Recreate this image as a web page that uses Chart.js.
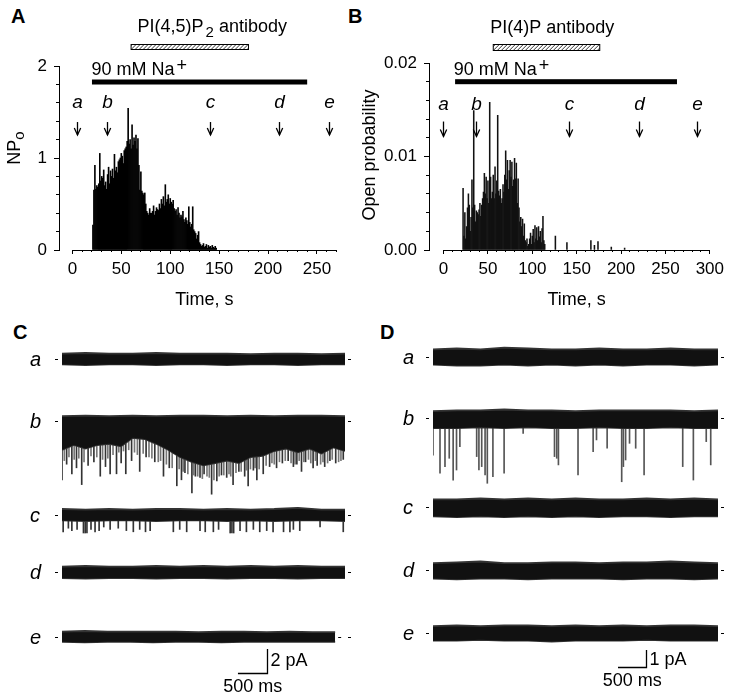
<!DOCTYPE html>
<html>
<head>
<meta charset="utf-8">
<script src="https://cdn.jsdelivr.net/npm/chart.js@4.4.1/dist/chart.umd.min.js"></script>
<style>
  html, body { margin: 0; padding: 0; background: #fff; }
  body { position: relative; width: 729px; height: 694px; overflow: hidden; font-family: "Liberation Sans", Arial, sans-serif; }
  canvas { position: absolute; }
  .tag { position: absolute; font-weight: bold; font-size: 20px; line-height: 20px; color: #000; }
</style>
</head>
<body>
<div class="tag" style="left:11px;top:6px">A</div>
<div class="tag" style="left:348px;top:6px">B</div>
<div class="tag" style="left:13px;top:322px">C</div>
<div class="tag" style="left:380px;top:322px">D</div>
<canvas id="chartA" width="360" height="320" style="left:0;top:0"></canvas>
<canvas id="chartB" width="369" height="320" style="left:360px;top:0"></canvas>
<canvas id="chartC" width="360" height="374" style="left:0;top:320px"></canvas>
<canvas id="chartD" width="369" height="374" style="left:360px;top:320px"></canvas>
<script>
// ---------- data: panel A (NPo, 1-s bins) ----------
const aStart = 21
const aNPo = [
  0.27, 0.65, 0.92, 0.66, 0.70, 0.68, 0.72, 1.05, 0.75, 0.80,
  0.78, 0.87, 0.70, 0.74, 0.66, 0.82, 0.90, 0.72, 0.86, 0.80,
  0.88, 0.78, 1.04, 0.86, 0.90, 0.84, 0.96, 0.98, 1.00, 1.05,
  1.02, 0.94, 1.08, 1.10, 1.12, 1.18, 1.54, 1.15, 1.20, 1.10,
  1.36, 1.14, 1.22, 1.18, 1.25, 1.10, 1.21, 0.92, 0.65, 0.85,
  0.64, 0.62, 0.60, 0.62, 0.50, 0.42, 0.40, 0.38, 0.45, 0.40,
  0.40, 0.42, 0.48, 0.38, 0.42, 0.46, 0.44, 0.43, 0.50, 0.45,
  0.55, 0.50, 0.58, 0.48, 0.71, 0.52, 0.55, 0.60, 0.50, 0.56,
  0.52, 0.50, 0.54, 0.45, 0.42, 0.44, 0.38, 0.46, 0.40, 0.35,
  0.38, 0.36, 0.42, 0.33, 0.30, 0.35, 0.32, 0.28, 0.47, 0.30,
  0.25, 0.28, 0.47, 0.22, 0.20, 0.18, 0.12, 0.16, 0.20, 0.08,
  0.06, 0.04, 0.05, 0.07, 0.03, 0.04, 0.06, 0.02, 0.05, 0.03,
  0.04, 0.02, 0.05, 0.03, 0.02, 0.04, 0.02
]
const aTicksX = [0, 50, 100, 150, 200, 250]
const aTicksY = [0, 1, 2]
const aArrowTimes = [5, 35, 141, 211, 262]
const aNaPeriod = [20, 240]
const aAbPeriod = [60, 180]

// ---------- data: panel B (open probability, 1-s bins) ----------
const bStart = 22
const bOpenProb = [
  0.0066, 0.0015, 0.0040, 0.0012, 0.0025, 0.0045, 0.0060, 0.0048, 0.0020, 0.0035,
  0.0075, 0.0045, 0.0149, 0.0048, 0.0030, 0.0042, 0.0040, 0.0038, 0.0043, 0.0050,
  0.0036, 0.0048, 0.0055, 0.0062, 0.0082, 0.0060, 0.0078, 0.0055, 0.0074, 0.0050,
  0.0158, 0.0078, 0.0055, 0.0062, 0.0080, 0.0055, 0.0089, 0.0060, 0.0074, 0.0144,
  0.0063, 0.0058, 0.0065, 0.0050, 0.0055, 0.0070, 0.0062, 0.0080, 0.0106, 0.0075,
  0.0096, 0.0065, 0.0085, 0.0096, 0.0078, 0.0094, 0.0068, 0.0075, 0.0098, 0.0076,
  0.0093, 0.0050, 0.0076, 0.0045, 0.0030, 0.0035, 0.0025, 0.0033, 0.0015, 0.0028,
  0.0010, 0.0008, 0.0012, 0.0004, 0.0006, 0.0012, 0.0018, 0.0006, 0.0015, 0.0022,
  0.0008, 0.0026, 0.0012, 0.0024, 0.0010, 0.0025, 0.0014, 0.0020, 0.0008, 0.0023,
  0.0036, 0.0010, 0.0006
]
const bLateTimes = [126, 139, 166, 170, 174, 189, 204]
const bLateProb = [0.0015, 0.0008, 0.0010, 0.0005, 0.0009, 0.0003, 0.0002]
const bTicksX = [0, 50, 100, 150, 200, 250, 300]
const bTicksY = [0, 0.01, 0.02]
const bArrowTimes = [-1, 36, 141, 220, 286]
const bNaPeriod = [13, 263]
const bAbPeriod = [56, 176]

const traceLetters = ['a', 'b', 'c', 'd', 'e']

// ---------- data: panel C traces (pA relative to closed level, samples spread over each sweep) ----------
const cEnd = [4.88, 4.88, 4.88, 4.88, 4.71]
const cUpper = [
  [0.45, 0.50, 0.45, 0.45, 0.50, 0.45, 0.45, 0.45, 0.40, 0.45, 0.45, 0.40, 0.45],
  [0.40, 0.45, 0.40, 0.45, 0.40, 0.45, 0.45, 0.40, 0.45, 0.40, 0.45, 0.45, 0.40],
  [0.50, 0.45, 0.50, 0.45, 0.50, 0.50, 0.45, 0.50, 0.45, 0.50, 0.60, 0.45, 0.45],
  [0.45, 0.50, 0.45, 0.45, 0.50, 0.45, 0.50, 0.45, 0.50, 0.45, 0.50, 0.45, 0.45],
  [0.45, 0.50, 0.45, 0.45, 0.45, 0.45, 0.40, 0.45, 0.45, 0.40, 0.45, 0.40, 0.40]
]
const cLower = [
  [-0.45, -0.50, -0.45, -0.45, -0.50, -0.45, -0.45, -0.50, -0.45, -0.45, -0.50, -0.45, -0.45],
  [-2.4, -2.0, -2.3, -2.0, -1.9, -2.1, -1.4, -1.5, -1.9, -2.4, -3.0, -3.4, -3.7,
   -3.5, -3.3, -3.5, -3.0, -2.9, -2.5, -2.3, -2.6, -2.3, -2.7, -2.2, -2.5],
  [-0.45, -0.50, -0.45, -0.45, -0.50, -0.45, -0.45, -0.50, -0.45, -0.50, -0.45, -0.45, -0.50],
  [-0.50, -0.55, -0.50, -0.50, -0.55, -0.50, -0.50, -0.55, -0.50, -0.50, -0.55, -0.50, -0.50],
  [-0.40, -0.45, -0.40, -0.40, -0.45, -0.40, -0.40, -0.45, -0.40, -0.40, -0.40, -0.40, -0.40]
]
// openings in sweep b (deep ones, then the grey fringe) and sweep c (time s, amplitude pA)
const cbSpikeT = [0.00, 0.08, 0.17, 0.25, 0.34, 0.45, 0.55, 0.66, 0.75, 0.83,
  0.94, 1.02, 1.10, 1.20, 1.34, 1.45, 1.60, 1.75, 1.85, 1.98,
  2.06, 2.12, 2.24, 2.30, 2.38, 2.45, 2.58, 2.67, 2.75, 2.84,
  2.95, 3.05, 3.15, 3.21, 3.30, 3.36, 3.47, 3.58, 3.70, 3.80,
  3.90, 3.99, 4.05, 4.13, 4.20, 4.33, 4.40, 4.53, 4.62, 4.72, 4.85]
const cbSpikeA = [-4.9, -3.6, -4.4, -3.9, -5.3, -3.7, -3.4, -4.6, -3.8, -4.4,
  -4.4, -3.5, -4.4, -3.3, -4.2, -3.0, -3.4, -4.6, -3.9, -5.4,
  -4.9, -4.3, -6.0, -4.6, -4.7, -4.4, -6.1, -5.0, -4.5, -4.7,
  -5.3, -4.2, -4.6, -5.4, -4.1, -4.9, -4.4, -3.8, -3.9, -3.5,
  -3.3, -3.8, -3.6, -4.2, -3.4, -3.9, -3.7, -3.8, -3.3, -3.5, -3.2]
const cbHairT = [0.04, 0.12, 0.21, 0.29, 0.38, 0.50, 0.60, 0.70, 0.79, 0.88,
  0.98, 1.06, 1.15, 1.25, 1.30, 1.40, 1.50, 1.55, 1.66, 1.70,
  1.80, 1.90, 2.02, 2.09, 2.17, 2.27, 2.34, 2.42, 2.50, 2.54,
  2.62, 2.71, 2.79, 2.88, 2.91, 3.00, 3.09, 3.18, 3.25, 3.33,
  3.40, 3.52, 3.62, 3.66, 3.75, 3.85, 3.95, 4.02, 4.09, 4.17,
  4.25, 4.29, 4.37, 4.46, 4.50, 4.58, 4.66, 4.77, 4.81]
const cbHairA = [-3.3, -3.0, -3.2, -3.1, -3.4, -2.9, -3.0, -3.2, -3.1, -2.8,
  -2.6, -2.5, -2.4, -2.6, -2.8, -2.7, -3.0, -3.1, -3.4, -3.3,
  -3.6, -3.9, -4.0, -4.2, -4.4, -4.5, -4.6, -4.8, -4.6, -4.7,
  -4.9, -4.6, -4.5, -4.4, -4.6, -4.3, -4.2, -4.1, -4.0, -3.9,
  -4.0, -3.7, -3.5, -3.6, -3.4, -3.3, -3.5, -3.6, -3.3, -3.4,
  -3.2, -3.5, -3.3, -3.6, -3.4, -3.5, -3.2, -3.4, -3.3]
const ccSpikeT = [0.02, 0.11, 0.17, 0.26, 0.37, 0.40, 0.43, 0.50, 0.57, 0.64,
  0.72, 0.83, 0.97, 1.11, 1.23, 1.34, 1.44, 1.52, 1.92, 2.03,
  2.15, 2.38, 2.47, 2.61, 2.70, 2.90, 2.93, 2.96, 3.07, 3.18,
  3.30, 3.41, 3.53, 3.64, 3.82, 3.93, 3.99, 4.10, 4.45, 4.85]
const ccSpikeA = [-1.4, -1.1, -1.3, -1.2, -1.5, -1.5, -1.5, -1.2, -1.4, -1.3,
  -1.0, -1.2, -1.1, -1.3, -1.4, -1.2, -1.4, -1.3, -1.4, -1.2,
  -1.4, -1.3, -1.4, -1.4, -1.2, -1.5, -1.5, -1.5, -1.3, -1.4,
  -1.2, -1.4, -1.3, -1.4, -1.4, -1.4, -1.2, -1.3, -1.0, -1.4]

// ---------- data: panel D traces ----------
const dEnd = [5.09, 5.09, 5.09, 5.09, 5.09]
const dUpper = [
  [0.45, 0.50, 0.45, 0.55, 0.50, 0.45, 0.45, 0.50, 0.45, 0.45, 0.50, 0.45, 0.45],
  [0.40, 0.45, 0.45, 0.50, 0.45, 0.45, 0.40, 0.45, 0.45, 0.45, 0.45, 0.40, 0.45],
  [0.45, 0.45, 0.50, 0.45, 0.50, 0.45, 0.50, 0.45, 0.45, 0.50, 0.45, 0.50, 0.45],
  [0.40, 0.45, 0.50, 0.40, 0.40, 0.45, 0.45, 0.40, 0.45, 0.45, 0.50, 0.45, 0.40],
  [0.40, 0.45, 0.40, 0.45, 0.45, 0.40, 0.45, 0.40, 0.45, 0.40, 0.45, 0.45, 0.40]
]
const dLower = [
  [-0.45, -0.50, -0.50, -0.45, -0.50, -0.45, -0.50, -0.45, -0.50, -0.45, -0.45, -0.50, -0.45],
  [-0.60, -0.60, -0.55, -0.60, -0.55, -0.60, -0.60, -0.55, -0.60, -0.60, -0.55, -0.60, -0.60],
  [-0.55, -0.60, -0.55, -0.60, -0.55, -0.60, -0.55, -0.60, -0.55, -0.55, -0.60, -0.55, -0.55],
  [-0.50, -0.55, -0.50, -0.50, -0.55, -0.50, -0.50, -0.50, -0.55, -0.50, -0.50, -0.55, -0.50],
  [-0.45, -0.45, -0.40, -0.45, -0.45, -0.50, -0.45, -0.45, -0.45, -0.40, -0.45, -0.45, -0.45]
]
const dbSpikeT = [0.00, 0.125, 0.214, 0.29, 0.36, 0.42, 0.48, 0.78, 0.82, 0.87,
  0.93, 0.97, 1.07, 1.27, 1.61, 2.17, 2.21, 2.24, 2.59, 2.86,
  2.92, 3.11, 3.37, 3.40, 3.44, 3.51, 3.62, 3.77, 4.46, 4.65, 4.88, 4.96]
const dbSpikeA = [-2.18, -3.25, -2.86, -2.37, -3.65, -3.06, -1.69, -2.27, -3.06, -2.86,
  -3.35, -3.84, -3.45, -3.25, -0.9, -2.27, -2.37, -2.76, -3.35, -1.98,
  -1.29, -1.78, -3.75, -2.86, -2.47, -1.49, -1.78, -3.35, -2.86, -3.65, -1.39, -2.76]

// ---------- drawing ----------
const FONT = '"Liberation Sans", Arial, sans-serif'
Chart.defaults.font.family = FONT
Chart.defaults.color = '#000'

function setFont(ctx, r) {
  ctx.font = (r.style || '') + ' ' + r.size + 'px ' + FONT
}

// draws text made of runs (for sub/superscripts)
function textRuns(ctx, runs, x, y, align) {
  let total = 0
  runs.forEach(r => { setFont(ctx, r); r.w = ctx.measureText(r.t).width; total += r.w + (r.gap || 0) })
  let cx = align === 'center' ? x - total / 2 : x
  ctx.textAlign = 'left'
  ctx.textBaseline = 'alphabetic'
  runs.forEach(r => {
    setFont(ctx, r)
    cx += r.gap || 0
    ctx.fillText(r.t, cx, y + (r.dy || 0))
    cx += r.w
  })
}

const histDecor = {
  id: 'histDecor',
  afterDraw(chart, args, o) {
    const { ctx, chartArea } = chart
    const x = chart.scales.x, y = chart.scales.y
    const px = v => x.getPixelForValue(v)
    const py = v => y.getPixelForValue(v)
    ctx.save()
    ctx.fillStyle = '#000'
    ctx.strokeStyle = '#000'

    // x axis line, starting at time 0
    ctx.lineWidth = 1
    ctx.beginPath()
    ctx.moveTo(px(0), Math.round(chartArea.bottom) + 0.5)
    ctx.lineTo(px(o.axisEnd), Math.round(chartArea.bottom) + 0.5)
    ctx.stroke()

    // axis titles
    textRuns(ctx, [{ t: 'Time, s', size: 18 }], px(o.axisEnd / 2), o.xTitleY, 'center')
    ctx.save()
    ctx.translate(o.yTitleX, o.yTitleY)
    ctx.rotate(-Math.PI / 2)
    textRuns(ctx, o.yTitle, 0, 0, 'center')
    ctx.restore()

    // arrows a-e
    o.arrows.forEach((t, i) => {
      const xp = Math.round(px(t)) + 0.5
      const yt = py(o.arrowTop), yb = py(o.arrowBottom)
      ctx.lineWidth = 1.3
      ctx.beginPath(); ctx.moveTo(xp, yt); ctx.lineTo(xp, yb); ctx.stroke()
      ctx.beginPath(); ctx.moveTo(xp - 3.2, yb - 7); ctx.lineTo(xp, yb); ctx.lineTo(xp + 3.2, yb - 7); ctx.stroke()
      textRuns(ctx, [{ t: traceLetters[i], size: 19, style: 'italic' }], xp, py(o.letterY), 'center')
    })

    // 90 mM Na+ bar
    const ny = py(o.naY)
    ctx.fillRect(px(o.na[0]), ny - 2.5, px(o.na[1]) - px(o.na[0]), 5)
    textRuns(ctx, [{ t: '90 mM Na', size: 18 }, { t: '+', size: 18, dy: -4, gap: 2 }], px(o.naTextT), py(o.naTextY), 'left')

    // antibody hatched bar
    const x1 = px(o.ab[0]), x2 = px(o.ab[1])
    const y1 = Math.round(py(o.abTop)) + 0.5, y2 = Math.round(py(o.abBottom)) + 0.5
    ctx.save()
    ctx.beginPath(); ctx.rect(x1, y1, x2 - x1, y2 - y1); ctx.clip()
    ctx.lineWidth = 0.8
    for (let k = x1 - 8; k < x2 + 8; k += 4) {
      ctx.beginPath(); ctx.moveTo(k, y2); ctx.lineTo(k + (y2 - y1), y1); ctx.stroke()
    }
    ctx.restore()
    ctx.lineWidth = 1
    ctx.strokeRect(x1, y1, x2 - x1, y2 - y1)
    textRuns(ctx, o.abLabel, px(o.abLabelT), py(o.abLabelY), 'center')
    ctx.restore()
  }
}

function tickList(from, to, step) {
  const out = []
  for (let v = from; v <= to + step / 1000; v += step) out.push({ value: +v.toFixed(6) })
  return out
}

function histChart(id, o) {
  return new Chart(document.getElementById(id), {
    type: 'bar',
    data: {
      datasets: [{
        data: o.points,
        backgroundColor: o.color,
        borderWidth: 0,
        barPercentage: 1,
        categoryPercentage: 1,
        grouped: false,
        xAxisID: 'x',
        yAxisID: 'y'
      }]
    },
    options: {
      responsive: false,
      animation: false,
      events: [],
      layout: { padding: { top: o.padTop, right: o.padRight, left: 0, bottom: 0 } },
      plugins: { legend: { display: false }, tooltip: { enabled: false }, histDecor: o.decor },
      scales: {
        x: {
          type: 'linear', position: 'bottom', min: o.xMin, max: o.xMax, offset: false,
          border: { display: false },
          grid: { drawOnChartArea: false, offset: false, tickLength: 4, tickColor: '#000', tickWidth: 1 },
          afterBuildTicks: s => { s.ticks = o.ticksX.map(v => ({ value: v })) },
          ticks: { padding: 5, font: { size: 17 }, color: '#000', autoSkip: false, maxRotation: 0 },
          afterFit: s => { s.height = 70 }
        },
        x2: {
          type: 'linear', position: 'bottom', weight: -1, min: o.xMin, max: o.xMax, offset: false,
          border: { display: false },
          grid: { drawOnChartArea: false, offset: false, tickLength: 2, tickColor: '#000', tickWidth: 1 },
          afterBuildTicks: s => { s.ticks = tickList(0, o.axisEnd, 10) },
          ticks: { display: false },
          afterFit: s => { s.height = 0 }
        },
        y: {
          type: 'linear', position: 'left', min: 0, max: o.yMax,
          border: { display: true, color: '#000', width: 1 },
          grid: { drawOnChartArea: false, tickLength: 5, tickColor: '#000', tickWidth: 1 },
          afterBuildTicks: s => { s.ticks = o.ticksY.map(v => ({ value: v })) },
          ticks: { padding: 7, font: { size: 17 }, color: '#000', callback: o.yFormat },
          afterFit: s => { s.width = o.yWidth }
        },
        y2: {
          type: 'linear', position: 'left', weight: -1, min: 0, max: o.yMax,
          border: { display: false },
          grid: { drawOnChartArea: false, tickLength: 3, tickColor: '#000', tickWidth: 1 },
          afterBuildTicks: s => { s.ticks = tickList(0, o.yMax, o.yMinor) },
          ticks: { display: false },
          afterFit: s => { s.width = 0 }
        }
      }
    },
    plugins: [histDecor]
  })
}

histChart('chartA', {
  points: aNPo.map((v, i) => ({ x: aStart + i, y: v })),
  color: '#000',
  xMin: -13.7, xMax: 270.5, axisEnd: 270, ticksX: aTicksX,
  yMax: 2, ticksY: aTicksY, yMinor: 0.2, yFormat: v => String(v),
  yWidth: 59, padTop: 66, padRight: 23,
  decor: {
    axisEnd: 270, xTitleY: 305,
    yTitle: [{ t: 'NP', size: 18 }, { t: 'o', size: 15, dy: 4 }], yTitleX: 20, yTitleY: 148,
    arrows: aArrowTimes, letterY: 1.543, arrowTop: 1.391, arrowBottom: 1.25,
    na: aNaPeriod, naY: 1.826, naTextT: 19.5, naTextY: 1.902,
    ab: aAbPeriod, abTop: 2.239, abBottom: 2.185,
    abLabel: [{ t: 'PI(4,5)P', size: 18 }, { t: '2', size: 15, dy: 5, gap: 2 }, { t: ' antibody', size: 18 }],
    abLabelT: 143, abLabelY: 2.373
  }
})

histChart('chartB', {
  points: bOpenProb.map((v, i) => ({ x: bStart + i, y: v }))
    .concat(bLateTimes.map((t, i) => ({ x: t, y: bLateProb[i] }))),
  color: '#111',
  xMin: -16.4, xMax: 300, axisEnd: 300, ticksX: bTicksX,
  yMax: 0.02, ticksY: bTicksY, yMinor: 0.002, yFormat: v => v.toFixed(2),
  yWidth: 69, padTop: 63, padRight: 16,
  decor: {
    axisEnd: 300, xTitleY: 305,
    yTitle: [{ t: 'Open probability', size: 18 }], yTitleX: 15, yTitleY: 155,
    arrows: bArrowTimes, letterY: 0.0150, arrowTop: 0.01374, arrowBottom: 0.01214,
    na: bNaPeriod, naY: 0.0180, naTextT: 11.5, naTextY: 0.01875,
    ab: bAbPeriod, abTop: 0.02207, abBottom: 0.02142,
    abLabel: [{ t: 'PI(4)P antibody', size: 18 }],
    abLabelT: 122.4, abLabelY: 0.02321
  }
})

// ---------- current traces ----------
const traceDecor = {
  id: 'traceDecor',
  afterDraw(chart, args, o) {
    const { ctx, chartArea } = chart
    const x = chart.scales.x, y = chart.scales.y
    ctx.save()
    ctx.fillStyle = '#000'
    ctx.strokeStyle = '#000'
    o.offsets.forEach((off, i) => {
      const yp = Math.round(y.getPixelForValue(off))
      ctx.fillRect(chartArea.left - o.markGap - 3, yp, 3, 1)
      ctx.fillRect(x.getPixelForValue(o.ends[i]) + 3, yp, 3, 1)
      if (o.ends[i] < x.max) ctx.fillRect(chartArea.right + 3, yp, 3, 1)
      textRuns(ctx, [{ t: traceLetters[i], size: 20, style: 'italic' }], chartArea.left + o.letterDx, yp + 7, 'left')
    })
    // scale bar
    const sb = o.scaleBar
    const xr = Math.round(x.getPixelForValue(sb.t)) + 0.5
    const xl = x.getPixelForValue(sb.t - sb.sec)
    const yt = y.getPixelForValue(sb.y)
    const yb = Math.round(y.getPixelForValue(sb.y - sb.pA)) + 0.5
    ctx.lineWidth = 1.3
    ctx.beginPath(); ctx.moveTo(xr, yt); ctx.lineTo(xr, yb); ctx.lineTo(xl, yb); ctx.stroke()
    textRuns(ctx, [{ t: sb.pA + ' pA', size: 18 }], xr + 3, yb + sb.pADy, 'left')
    textRuns(ctx, [{ t: (sb.sec * 1000) + ' ms', size: 18 }], (xl + xr) / 2, yb + 18, 'center')
    ctx.restore()
  }
}

function traceChart(id, o) {
  const datasets = []
  // bands first: Chart.js paints dataset 0 last, so the bands cover the feet of the openings
  o.upper.forEach((up, i) => {
    const pts = arr => arr.map((v, k) => ({ x: o.ends[i] * k / (arr.length - 1), y: o.offsets[i] + v }))
    const line = { type: 'line', borderColor: '#333', backgroundColor: '#111', borderWidth: 1.8, pointRadius: 0, tension: 0 }
    datasets.push(Object.assign({}, line, { data: pts(up), fill: '+1' }))
    datasets.push(Object.assign({}, line, { data: pts(o.lower[i]), fill: false }))
  })
  o.spikes.forEach(s => {
    datasets.push({
      type: 'bar',
      data: s.t.map((t, k) => ({ x: t, y: [o.offsets[s.trace], o.offsets[s.trace] + s.a[k]] })),
      backgroundColor: s.color, borderWidth: 0, barThickness: 1, grouped: false
    })
  })
  return new Chart(document.getElementById(id), {
    type: 'bar',
    data: { datasets },
    options: {
      responsive: false,
      animation: false,
      events: [],
      layout: { padding: o.padding },
      plugins: { legend: { display: false }, tooltip: { enabled: false }, traceDecor: o.decor },
      scales: {
        x: { type: 'linear', display: false, min: 0, max: o.xMax, offset: false },
        y: { type: 'linear', display: false, min: o.yMin, max: 0 }
      }
    },
    plugins: [traceDecor]
  })
}

const cOffsets = [-2.0, -7.167, -15.0, -19.75, -25.167]
traceChart('chartC', {
  upper: cUpper, lower: cLower, ends: cEnd, offsets: cOffsets,
  spikes: [
    { trace: 1, t: cbSpikeT, a: cbSpikeA, color: '#333' },
    { trace: 1, t: cbHairT, a: cbHairA, color: '#777' },
    { trace: 2, t: ccSpikeT, a: ccSpikeA, color: '#333' }
  ],
  xMax: 4.88, yMin: -29.583,
  padding: { left: 62, right: 15, top: 15, bottom: 4 },
  decor: {
    offsets: cOffsets, ends: cEnd, markGap: 4, letterDx: -32,
    scaleBar: { t: 3.534, sec: 0.5, y: -26.17, pA: 2, pADy: -8 }
  }
})

const dOffsets = [-1.294, -4.882, -10.118, -13.824, -17.529]
traceChart('chartD', {
  upper: dUpper, lower: dLower, ends: dEnd, offsets: dOffsets,
  spikes: [{ trace: 1, t: dbSpikeT, a: dbSpikeA, color: '#555' }],
  xMax: 5.09, yMin: -20.882,
  padding: { left: 73, right: 11, top: 15, bottom: 4 },
  decor: {
    offsets: dOffsets, ends: dEnd, markGap: 4, letterDx: -30,
    scaleBar: { t: 3.804, sec: 0.5, y: -18.53, pA: 1, pADy: -3 }
  }
})
</script>
</body>
</html>
